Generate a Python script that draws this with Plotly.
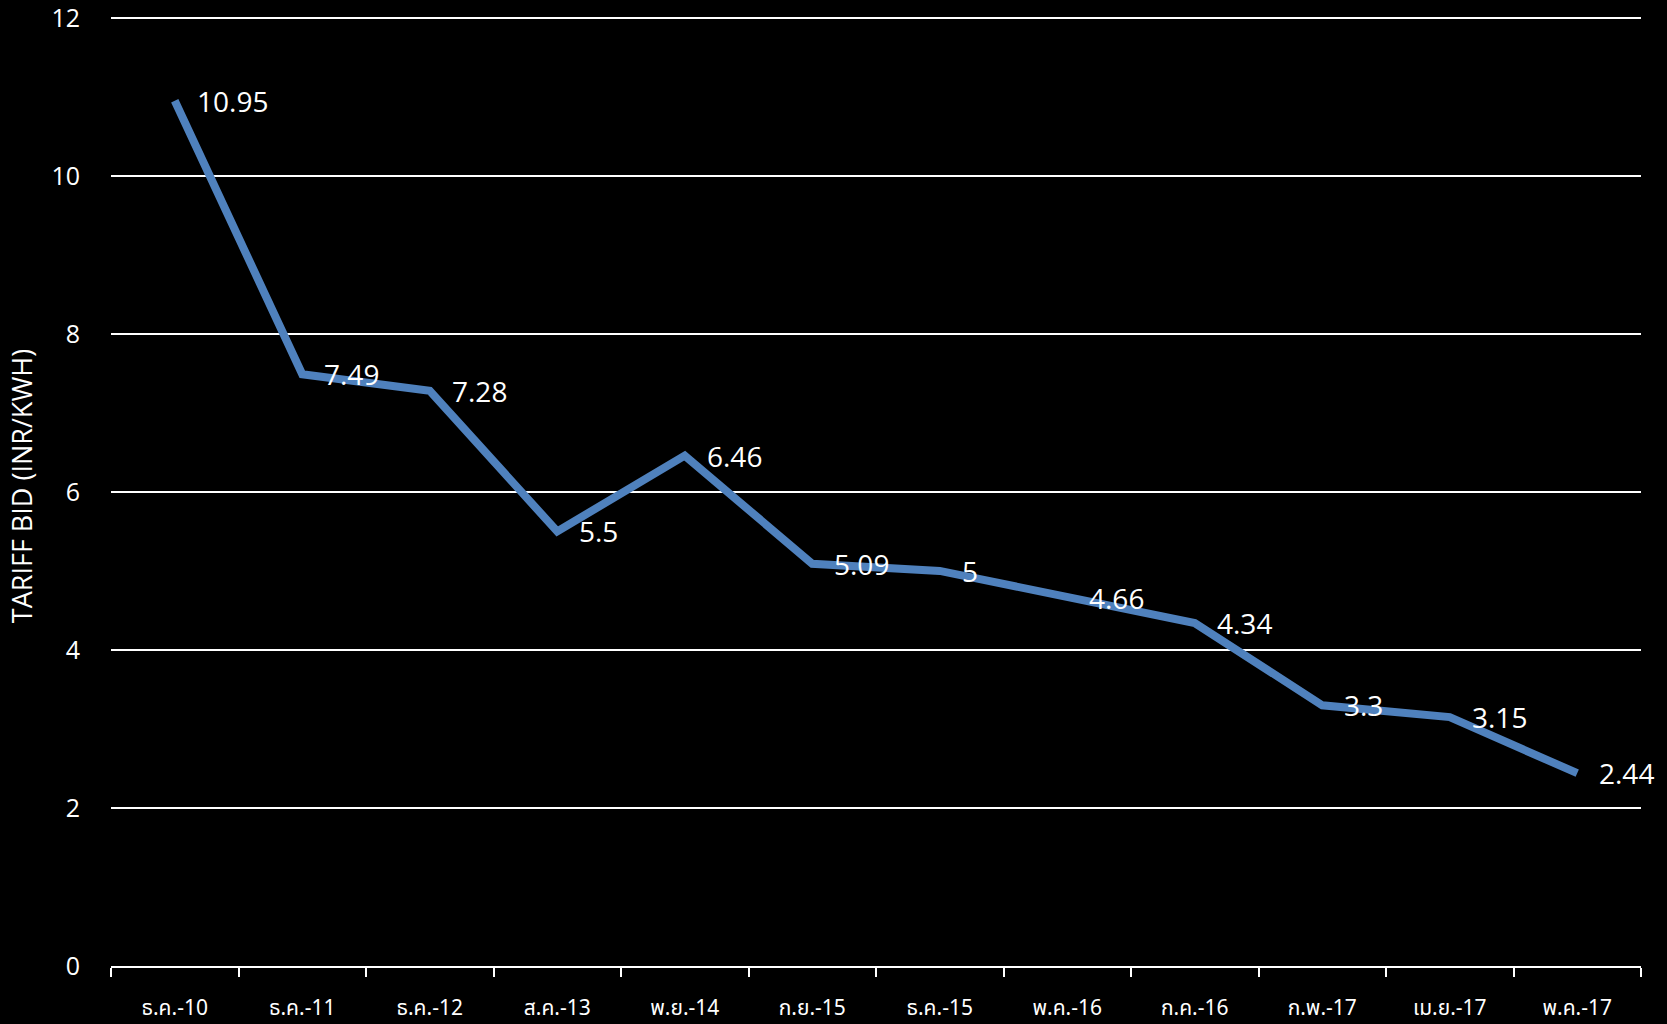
import plotly.graph_objects as go

# Solar tariff bids over time
months = ["ธ.ค.-10", "ธ.ค.-11", "ธ.ค.-12", "ส.ค.-13", "พ.ย.-14", "ก.ย.-15",
          "ธ.ค.-15", "พ.ค.-16", "ก.ค.-16", "ก.พ.-17", "เม.ย.-17", "พ.ค.-17"]
tariff = [10.95, 7.49, 7.28, 5.5, 6.46, 5.09, 5.0, 4.66, 4.34, 3.3, 3.15, 2.44]
y_ticks = [0, 2, 4, 6, 8, 10, 12]

LINE_BLUE = "#4F81BD"
FONT = "Open Sans, sans-serif"

fig = go.Figure()
fig.add_trace(go.Scatter(
    x=months, y=tariff, mode="lines",
    line=dict(color=LINE_BLUE, width=8),
    hoverinfo="x+y", showlegend=False,
))

# value labels to the right of each point
for m, v in zip(months, tariff):
    fig.add_annotation(
        x=m, y=v, text=f"{v:g}", showarrow=False,
        xanchor="left", yanchor="middle", xshift=20,
        font=dict(family=FONT, size=28, color="white"),
    )

# small headroom above 12 so the top gridline and its label are kept
fig.update_layout(
    width=1667, height=1024,
    paper_bgcolor="black", plot_bgcolor="black",
    margin=dict(l=111, r=26, t=6, b=58),
    font=dict(family=FONT, color="white"),
)
fig.update_xaxes(
    type="category", tickson="boundaries",
    range=[-0.5, len(months) - 0.5],
    ticks="outside", ticklen=9, tickwidth=2, tickcolor="white",
    showline=True, linecolor="white", linewidth=2,
    showgrid=False, automargin=False,
    tickfont=dict(family="Noto Sans Thai, Noto Sans, sans-serif", size=21, color="white"),
    ticklabelstandoff=22,
)
fig.update_yaxes(
    range=[0, 12.15], tickvals=y_ticks,
    showgrid=True, gridcolor="white", gridwidth=2,
    zeroline=False, showline=False, ticks="", automargin=False,
    tickfont=dict(family=FONT, size=25, color="white"),
    ticklabelstandoff=30, ticklabeloverflow="allow",
    title=dict(text="TARIFF BID (INR/KWH)", font=dict(family=FONT, size=27, color="white"),
               standoff=10),
)

fig.write_html("out.html")
